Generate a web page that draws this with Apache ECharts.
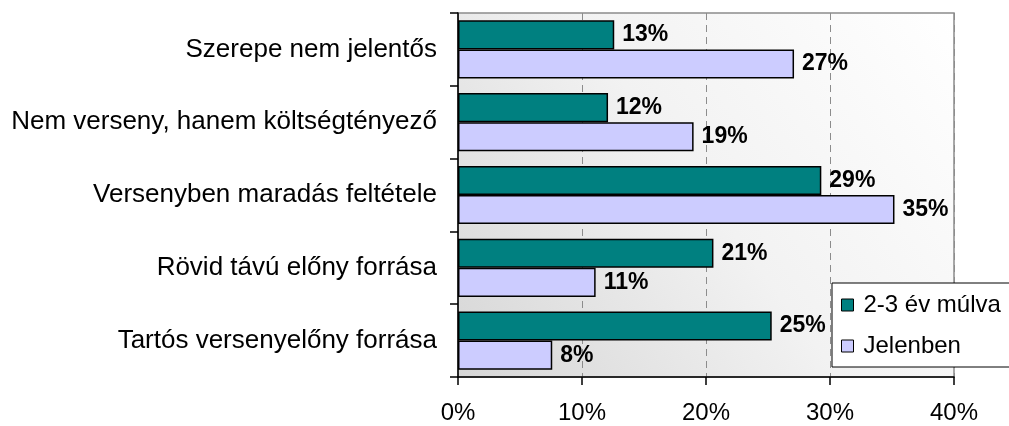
<!DOCTYPE html>
<html>
<head>
<meta charset="utf-8">
<script src="https://cdn.jsdelivr.net/npm/echarts@6/dist/echarts.min.js"></script>
<style>
html,body{margin:0;padding:0;background:#fff;}
#chart{width:1009px;height:426px;}
</style>
</head>
<body>
<div id="chart"></div>
<script>
const categories = [
  'Szerepe nem jelentős',
  'Nem verseny, hanem költségtényező',
  'Versenyben maradás feltétele',
  'Rövid távú előny forrása',
  'Tartós versenyelőny forrása'
];
const seriesNames = ['2-3 év múlva', 'Jelenben'];
const future = [12.6, 12.1, 29.3, 20.6, 25.3];
const present = [27.1, 19.0, 35.2, 11.1, 7.6];
const xTicks = { min: 0, max: 40, interval: 10 };

const FONT = '"Liberation Sans", Arial, sans-serif';
const chart = echarts.init(document.getElementById('chart'), null, { renderer: 'canvas' });

const labelOpt = {
  show: true,
  position: 'right',
  distance: 8,
  fontFamily: FONT,
  fontWeight: 'bold',
  fontSize: 23,
  color: '#000',
  formatter: p => Math.round(p.value) + '%'
};

chart.setOption({
  animation: false,
  grid: {
    left: 458, right: 55, top: 13, bottom: 49,
    show: true,
    borderColor: '#8c8c8c',
    borderWidth: 1.5,
    backgroundColor: {
      type: 'linear', x: 0, y: 1, x2: 1, y2: 0,
      colorStops: [
        { offset: 0, color: '#d6d6d6' },
        { offset: 0.5, color: '#f2f2f2' },
        { offset: 1, color: '#ffffff' }
      ]
    }
  },
  legend: {
    orient: 'vertical',
    left: 832, top: 283,
    width: 180,
    data: seriesNames,
    backgroundColor: '#fff',
    borderColor: '#000',
    borderWidth: 1,
    padding: [10, 60, 9, 9],
    itemGap: 17,
    itemWidth: 12,
    itemHeight: 12,
    icon: 'rect',
    itemStyle: { borderColor: '#000', borderWidth: 1 },
    textStyle: { fontFamily: FONT, fontSize: 24, color: '#000', padding: [0, 0, 0, 5] }
  },
  xAxis: {
    type: 'value',
    min: xTicks.min, max: xTicks.max, interval: xTicks.interval,
    axisLine: { show: true, lineStyle: { color: '#000', width: 1.5 } },
    axisTick: { show: true, length: 8, lineStyle: { color: '#000', width: 1.5 } },
    axisLabel: { formatter: '{value}%', fontFamily: FONT, fontSize: 24, color: '#000', margin: 24 },
    splitLine: { show: true, lineStyle: { color: '#8c8c8c', type: [7, 5], width: 1 } }
  },
  yAxis: {
    type: 'category',
    inverse: true,
    data: categories,
    axisLine: { show: true, lineStyle: { color: '#000', width: 1.5 } },
    axisTick: { show: true, length: 8, lineStyle: { color: '#000', width: 1.5 } },
    axisLabel: { fontFamily: FONT, fontSize: 26, color: '#000', margin: 21 },
    splitLine: { show: false }
  },
  series: [
    {
      name: seriesNames[0], type: 'bar', data: future,
      barGap: '0%', barCategoryGap: '20%',
      itemStyle: { color: '#008080', borderColor: '#000', borderWidth: 1.5 },
      label: labelOpt
    },
    {
      name: seriesNames[1], type: 'bar', data: present,
      barGap: '0%', barCategoryGap: '20%',
      itemStyle: { color: '#ccccff', borderColor: '#000', borderWidth: 1.5 },
      label: labelOpt
    }
  ]
});
</script>
</body>
</html>
